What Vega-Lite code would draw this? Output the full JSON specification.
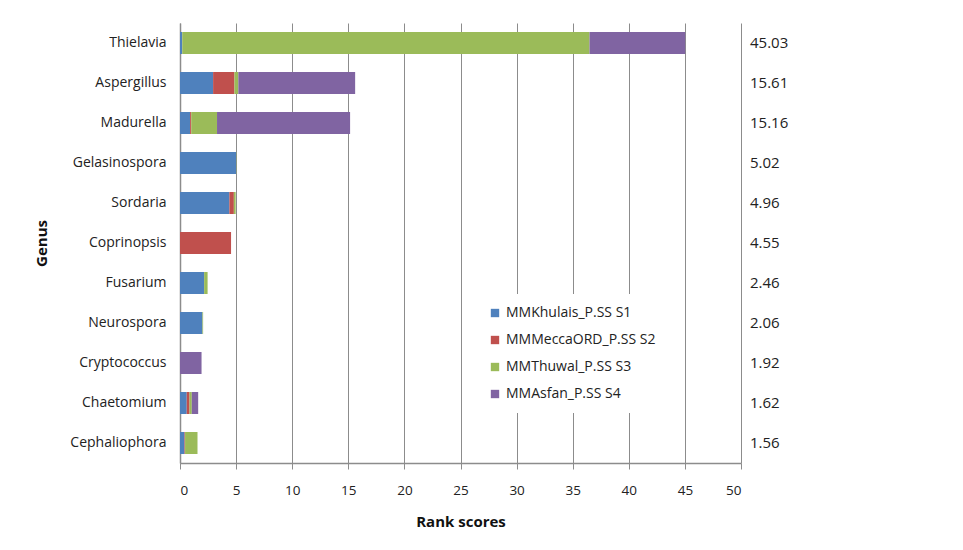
{
  "$schema": "https://vega.github.io/schema/vega-lite/v6.json",
  "autosize": {"type": "none"},
  "padding": {"left": 180, "top": 23, "right": 222, "bottom": 87},
  "width": 561,
  "height": 440,
  "background": "white",
  "config": {
    "font": "Open Sans",
    "view": {"stroke": null},
    "axis": {"labelFont": "Open Sans", "titleFont": "Open Sans", "labelColor": "#222", "titleColor": "#111"},
    "legend": {"labelFont": "Open Sans"}
  },
  "datasets": {
    "parts": [
      {"genus": "Thielavia", "sample": "MMKhulais_P.SS S1", "value": 0.2},
      {"genus": "Thielavia", "sample": "MMMeccaORD_P.SS S2", "value": 0},
      {"genus": "Thielavia", "sample": "MMThuwal_P.SS S3", "value": 36.3},
      {"genus": "Thielavia", "sample": "MMAsfan_P.SS S4", "value": 8.53},
      {"genus": "Aspergillus", "sample": "MMKhulais_P.SS S1", "value": 2.95},
      {"genus": "Aspergillus", "sample": "MMMeccaORD_P.SS S2", "value": 1.9},
      {"genus": "Aspergillus", "sample": "MMThuwal_P.SS S3", "value": 0.35},
      {"genus": "Aspergillus", "sample": "MMAsfan_P.SS S4", "value": 10.41},
      {"genus": "Madurella", "sample": "MMKhulais_P.SS S1", "value": 0.9},
      {"genus": "Madurella", "sample": "MMMeccaORD_P.SS S2", "value": 0.1},
      {"genus": "Madurella", "sample": "MMThuwal_P.SS S3", "value": 2.3},
      {"genus": "Madurella", "sample": "MMAsfan_P.SS S4", "value": 11.86},
      {"genus": "Gelasinospora", "sample": "MMKhulais_P.SS S1", "value": 5.0},
      {"genus": "Gelasinospora", "sample": "MMMeccaORD_P.SS S2", "value": 0},
      {"genus": "Gelasinospora", "sample": "MMThuwal_P.SS S3", "value": 0.02},
      {"genus": "Gelasinospora", "sample": "MMAsfan_P.SS S4", "value": 0},
      {"genus": "Sordaria", "sample": "MMKhulais_P.SS S1", "value": 4.4},
      {"genus": "Sordaria", "sample": "MMMeccaORD_P.SS S2", "value": 0.4},
      {"genus": "Sordaria", "sample": "MMThuwal_P.SS S3", "value": 0.16},
      {"genus": "Sordaria", "sample": "MMAsfan_P.SS S4", "value": 0},
      {"genus": "Coprinopsis", "sample": "MMKhulais_P.SS S1", "value": 0},
      {"genus": "Coprinopsis", "sample": "MMMeccaORD_P.SS S2", "value": 4.55},
      {"genus": "Coprinopsis", "sample": "MMThuwal_P.SS S3", "value": 0},
      {"genus": "Coprinopsis", "sample": "MMAsfan_P.SS S4", "value": 0},
      {"genus": "Fusarium", "sample": "MMKhulais_P.SS S1", "value": 2.15},
      {"genus": "Fusarium", "sample": "MMMeccaORD_P.SS S2", "value": 0},
      {"genus": "Fusarium", "sample": "MMThuwal_P.SS S3", "value": 0.31},
      {"genus": "Fusarium", "sample": "MMAsfan_P.SS S4", "value": 0},
      {"genus": "Neurospora", "sample": "MMKhulais_P.SS S1", "value": 2.0},
      {"genus": "Neurospora", "sample": "MMMeccaORD_P.SS S2", "value": 0},
      {"genus": "Neurospora", "sample": "MMThuwal_P.SS S3", "value": 0.06},
      {"genus": "Neurospora", "sample": "MMAsfan_P.SS S4", "value": 0},
      {"genus": "Cryptococcus", "sample": "MMKhulais_P.SS S1", "value": 0},
      {"genus": "Cryptococcus", "sample": "MMMeccaORD_P.SS S2", "value": 0},
      {"genus": "Cryptococcus", "sample": "MMThuwal_P.SS S3", "value": 0},
      {"genus": "Cryptococcus", "sample": "MMAsfan_P.SS S4", "value": 1.92},
      {"genus": "Chaetomium", "sample": "MMKhulais_P.SS S1", "value": 0.6},
      {"genus": "Chaetomium", "sample": "MMMeccaORD_P.SS S2", "value": 0.25},
      {"genus": "Chaetomium", "sample": "MMThuwal_P.SS S3", "value": 0.2},
      {"genus": "Chaetomium", "sample": "MMAsfan_P.SS S4", "value": 0.57},
      {"genus": "Cephaliophora", "sample": "MMKhulais_P.SS S1", "value": 0.4},
      {"genus": "Cephaliophora", "sample": "MMMeccaORD_P.SS S2", "value": 0.05},
      {"genus": "Cephaliophora", "sample": "MMThuwal_P.SS S3", "value": 1.11},
      {"genus": "Cephaliophora", "sample": "MMAsfan_P.SS S4", "value": 0}
    ],
    "totals": [
      {"genus": "Thielavia", "total": "45.03"},
      {"genus": "Aspergillus", "total": "15.61"},
      {"genus": "Madurella", "total": "15.16"},
      {"genus": "Gelasinospora", "total": "5.02"},
      {"genus": "Sordaria", "total": "4.96"},
      {"genus": "Coprinopsis", "total": "4.55"},
      {"genus": "Fusarium", "total": "2.46"},
      {"genus": "Neurospora", "total": "2.06"},
      {"genus": "Cryptococcus", "total": "1.92"},
      {"genus": "Chaetomium", "total": "1.62"},
      {"genus": "Cephaliophora", "total": "1.56"}
    ]
  },
  "layer": [
    {
      "data": {"name": "parts"},
      "transform": [
        {"calculate": "indexof(['MMKhulais_P.SS S1','MMMeccaORD_P.SS S2','MMThuwal_P.SS S3','MMAsfan_P.SS S4'], datum.sample)", "as": "ord"}
      ],
      "mark": {"type": "bar"},
      "encoding": {
        "y": {
          "field": "genus", "type": "nominal",
          "sort": ["Thielavia","Aspergillus","Madurella","Gelasinospora","Sordaria","Coprinopsis","Fusarium","Neurospora","Cryptococcus","Chaetomium","Cephaliophora"],
          "scale": {"paddingInner": 0.45, "paddingOuter": 0.225},
          "axis": {
            "title": "Genus", "titleFontSize": 15, "titleFontWeight": "bold", "titlePadding": 20,
            "labelFontSize": 14, "labelPadding": 14, "ticks": false,
            "domainColor": "#8c8c8c", "domainWidth": 1.5, "grid": false
          }
        },
        "x": {
          "field": "value", "type": "quantitative", "stack": "zero",
          "scale": {"domain": [0, 50], "nice": false},
          "axis": {
            "title": "Rank scores", "titleFontSize": 15, "titleFontWeight": "bold", "titlePadding": 18,
            "values": [0,5,10,15,20,25,30,35,40,45,50],
            "labelFontSize": 13.5, "labelPadding": 14, "tickSize": 6, "tickColor": "#8c8c8c",
            "domainColor": "#8c8c8c", "domainWidth": 1.5,
            "grid": true, "gridColor": "#8c8c8c", "gridWidth": 1
          }
        },
        "color": {
          "field": "sample", "type": "nominal",
          "scale": {
            "domain": ["MMKhulais_P.SS S1","MMMeccaORD_P.SS S2","MMThuwal_P.SS S3","MMAsfan_P.SS S4"],
            "range": ["#4F81BD","#C0504D","#9BBB59","#8064A2"]
          },
          "legend": {
            "title": null, "orient": "none", "legendX": 296, "legendY": 271,
            "fillColor": "white", "padding": 12,
            "symbolType": "square", "symbolSize": 70, "symbolStrokeWidth": 0,
            "labelFontSize": 14, "labelColor": "#222", "rowPadding": 13, "labelOffset": 4
          }
        },
        "order": {"field": "ord", "type": "quantitative"}
      }
    },
    {
      "data": {"name": "totals"},
      "mark": {"type": "text", "align": "left", "baseline": "middle", "fontSize": 15, "color": "#222"},
      "encoding": {
        "y": {"field": "genus", "type": "nominal", "sort": ["Thielavia","Aspergillus","Madurella","Gelasinospora","Sordaria","Coprinopsis","Fusarium","Neurospora","Cryptococcus","Chaetomium","Cephaliophora"]},
        "x": {"datum": 50.8, "type": "quantitative"},
        "text": {"field": "total"}
      }
    }
  ]
}
